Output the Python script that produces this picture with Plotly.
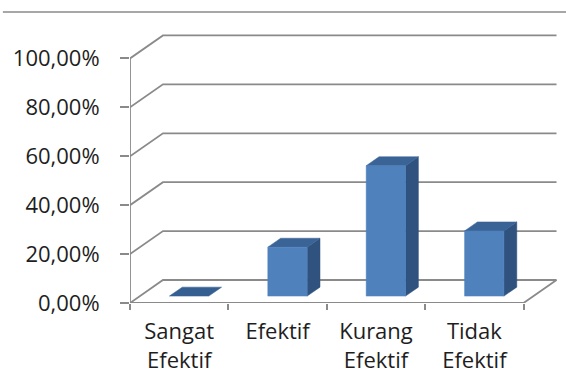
import plotly.graph_objects as go

categories = ["Sangat<br>Efektif", "Efektif", "Kurang<br>Efektif", "Tidak<br>Efektif"]
values = [0.0, 20.0, 53.33, 26.67]
y_ticks = [0, 20, 40, 60, 80, 100]
y_tick_labels = ["0,00%", "20,00%", "40,00%", "60,00%", "80,00%", "100,00%"]

# oblique projection parameters (data units)
DDX = 0.335   # depth shift in category units
DDY = 9.4     # depth shift in % units
F0, F1 = 0.30, 0.69   # bar front/back depth fractions
HALF_W = 0.2

GRID = "#8a8a8a"
FRONT = "#4F81BD"
SIDE = "#30527F"
TOP = "#3A6396"

n = len(categories)
x_left, x_right = -0.5, n - 0.5

fig = go.Figure()

def line(xs, ys, color=GRID, width=1.8):
    fig.add_trace(go.Scatter(x=xs, y=ys, mode="lines", line=dict(color=color, width=width),
                             hoverinfo="skip", showlegend=False, cliponaxis=False))

def poly(xs, ys, color):
    fig.add_trace(go.Scatter(x=xs + [xs[0]], y=ys + [ys[0]], mode="lines", fill="toself",
                             fillcolor=color, line=dict(color=color, width=0.5),
                             hoverinfo="skip", showlegend=False, cliponaxis=False))

# walls / gridlines
for L in y_ticks:
    line([x_left, x_left + DDX, x_right + DDX], [L, L + DDY, L + DDY])
# floor front edge and right edge
line([x_left, x_right, x_right + DDX], [0, 0, DDY])
# front vertical axis
line([x_left, x_left], [0, y_ticks[-1]])

# bars
for i, v in enumerate(values):
    fx0 = i - HALF_W + F0 * DDX
    fx1 = i + HALF_W + F0 * DDX
    fy = F0 * DDY
    bx0 = i - HALF_W + F1 * DDX
    bx1 = i + HALF_W + F1 * DDX
    by = F1 * DDY
    if v > 0:
        # side face
        poly([fx1, bx1, bx1, fx1], [fy, by, by + v, fy + v], SIDE)
        # top face
        poly([fx0, fx1, bx1, bx0], [fy + v, fy + v, by + v, by + v], TOP)
        # front face
        poly([fx0, fx1, fx1, fx0], [fy, fy, fy + v, fy + v], FRONT)
    else:
        poly([fx0, fx1, bx1, bx0], [fy, fy, by, by], "#365F91")

yfont = dict(family="Open Sans", size=22, color="#1e1e1e")
xfont = dict(family="Open Sans", size=22, color="#1e1e1e")

fig.update_layout(
    width=566, height=376,
    margin=dict(l=130, r=8, t=34, b=73),
    paper_bgcolor="white", plot_bgcolor="white",
    xaxis=dict(range=[x_left, x_right + 0.35], tickvals=list(range(n)), ticktext=categories,
               ticks="", showgrid=False, zeroline=False, showline=False, automargin=False,
               tickfont=xfont, ticklabelstandoff=13,
               minor=dict(tick0=-0.5, dtick=1, ticks="outside", ticklen=6, tickwidth=2,
                          tickcolor=GRID, showgrid=False)),
    yaxis=dict(range=[0, 110], tickvals=y_ticks, ticktext=y_tick_labels, ticks="outside",
               ticklen=9, tickwidth=2, tickcolor=GRID, showgrid=False, zeroline=False,
               showline=False, automargin=False, tickfont=yfont, ticklabelstandoff=16),
    shapes=[dict(type="line", xref="paper", yref="paper", x0=-0.297, x1=1.02,
                 y0=1 + 22 / 269, y1=1 + 22 / 269, line=dict(color="#8a8a8a", width=1.5))],
)

fig.write_html("out.html")
